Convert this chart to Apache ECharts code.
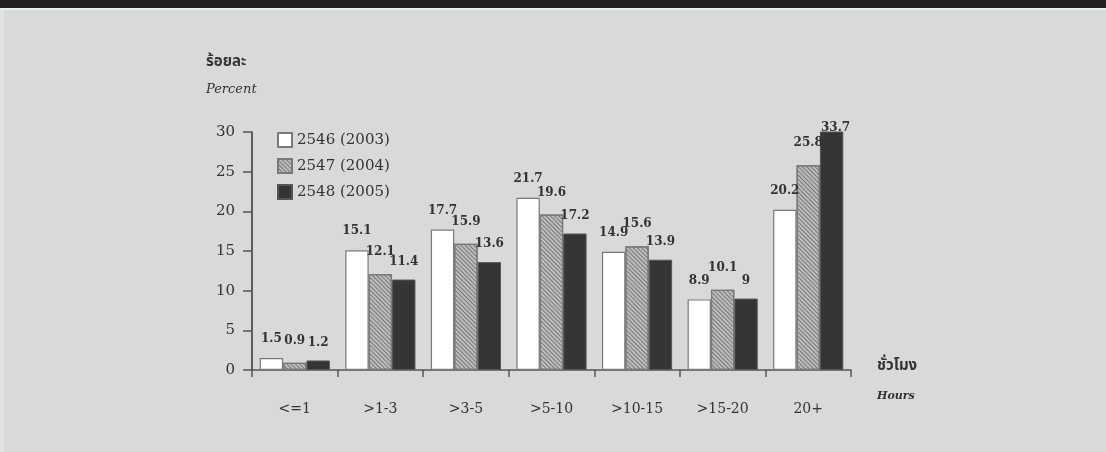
<!DOCTYPE html>
<html>
<head>
<meta charset="utf-8">
<script src="https://cdn.jsdelivr.net/npm/echarts@6/dist/echarts.min.js"></script>
<style>
  html, body { margin: 0; padding: 0; background: #d8d9db; }
  #topbar { position: absolute; left: 0; top: 0; width: 1106px; height: 8px; background: #231f20; border-bottom: 2px solid #ececec; }
  #edge { position: absolute; left: 0; top: 10px; width: 4px; height: 442px; background: #e3e3e5; }
  #main { position: absolute; left: 0; top: 0; width: 1106px; height: 452px; }
</style>
</head>
<body>
<div id="topbar"></div>
<div id="edge"></div>
<div id="main"></div>
<script>
// 数据
var categories = ['<=1', '>1-3', '>3-5', '>5-10', '>10-15', '>15-20', '20+'];
var seriesNames = ['2546 (2003)', '2547 (2004)', '2548 (2005)'];
var y2546 = [1.5, 15.1, 17.7, 21.7, 14.9, 8.9, 20.2];
var y2547 = [0.9, 12.1, 15.9, 19.6, 15.6, 10.1, 25.8];
var y2548 = [1.2, 11.4, 13.6, 17.2, 13.9, 9, 33.7];
var yMin = 0, yMax = 30, yStep = 5;

var SERIF = '"DejaVu Serif", "Liberation Serif", serif';
var THAI = '"Noto Sans Thai", "Noto Sans", "DejaVu Sans", sans-serif';

function barLabel(dx, dy) {
    return {
        show: true,
        position: 'top',
        distance: dy,
        offset: [dx, 0],
        color: '#333',
        fontFamily: SERIF,
        fontSize: 12,
        fontWeight: 'bold'
    };
}

var myChart = echarts.init(document.getElementById('main'));
myChart.setOption({
    animation: false,
    backgroundColor: 'transparent',
    title: [
        {
            text: 'ร้อยละ', subtext: 'Percent',
            left: 201, top: 50, itemGap: 13,
            textStyle: { fontFamily: THAI, fontSize: 15, fontWeight: 'bold', color: '#333' },
            subtextStyle: { fontFamily: SERIF, fontSize: 13, fontStyle: 'italic', color: '#333' }
        },
        {
            text: 'ชั่วโมง', subtext: 'Hours',
            left: 872, top: 354, itemGap: 17,
            textStyle: { fontFamily: THAI, fontSize: 15, fontWeight: 'bold', color: '#333' },
            subtextStyle: { fontFamily: SERIF, fontSize: 11, fontStyle: 'italic', fontWeight: 'bold', color: '#333' }
        }
    ],
    legend: {
        orient: 'vertical',
        left: 272, top: 127,
        itemGap: 10,
        itemWidth: 14, itemHeight: 14,
        icon: 'rect',
        textStyle: { fontFamily: SERIF, fontSize: 15, color: '#333' },
        data: seriesNames
    },
    grid: { left: 252, right: 255, top: 132, bottom: 82 },
    xAxis: {
        type: 'category',
        data: categories,
        axisLine: { lineStyle: { color: '#555', width: 1.5 } },
        axisTick: { show: true, length: 7, lineStyle: { color: '#555', width: 1.5 } },
        axisLabel: { margin: 32, color: '#333', fontFamily: SERIF, fontSize: 14 }
    },
    yAxis: {
        type: 'value',
        min: yMin, max: yMax, interval: yStep,
        axisLine: { show: true, lineStyle: { color: '#333', width: 1.5 } },
        axisTick: { show: true, length: 9, lineStyle: { color: '#555', width: 1.5 } },
        axisLabel: { margin: 17, color: '#333', fontFamily: SERIF, fontSize: 15 },
        splitLine: { show: false }
    },
    // 超出坐标轴顶部的标签压回到柱顶附近
    labelLayout: function (params) {
        var r = params.labelRect;
        if (r.y < 120) {
            return { x: r.x + r.width / 2, y: 134, align: 'center', verticalAlign: 'bottom' };
        }
    },
    series: [
        {
            name: seriesNames[0], type: 'bar', data: y2546,
            barGap: '0%', barCategoryGap: '18%',
            itemStyle: { color: '#ffffff', borderColor: '#7a7a7a', borderWidth: 1.2 },
            label: barLabel(-3, 13)
        },
        {
            name: seriesNames[1], type: 'bar', data: y2547,
            barGap: '0%', barCategoryGap: '18%',
            itemStyle: {
                color: '#bdbdbd', borderColor: '#7a7a7a', borderWidth: 1.2,
                decal: {
                    symbol: 'rect', symbolSize: 1,
                    dashArrayX: [1, 0], dashArrayY: [1, 2],
                    rotation: Math.PI / 4,
                    color: 'rgba(90,90,90,0.7)'
                }
            },
            label: barLabel(1, 16)
        },
        {
            name: seriesNames[2], type: 'bar', data: y2548,
            barGap: '0%', barCategoryGap: '18%',
            itemStyle: { color: '#353535', borderColor: '#555', borderWidth: 1 },
            label: barLabel(4, 12)
        }
    ]
});
</script>
</body>
</html>
